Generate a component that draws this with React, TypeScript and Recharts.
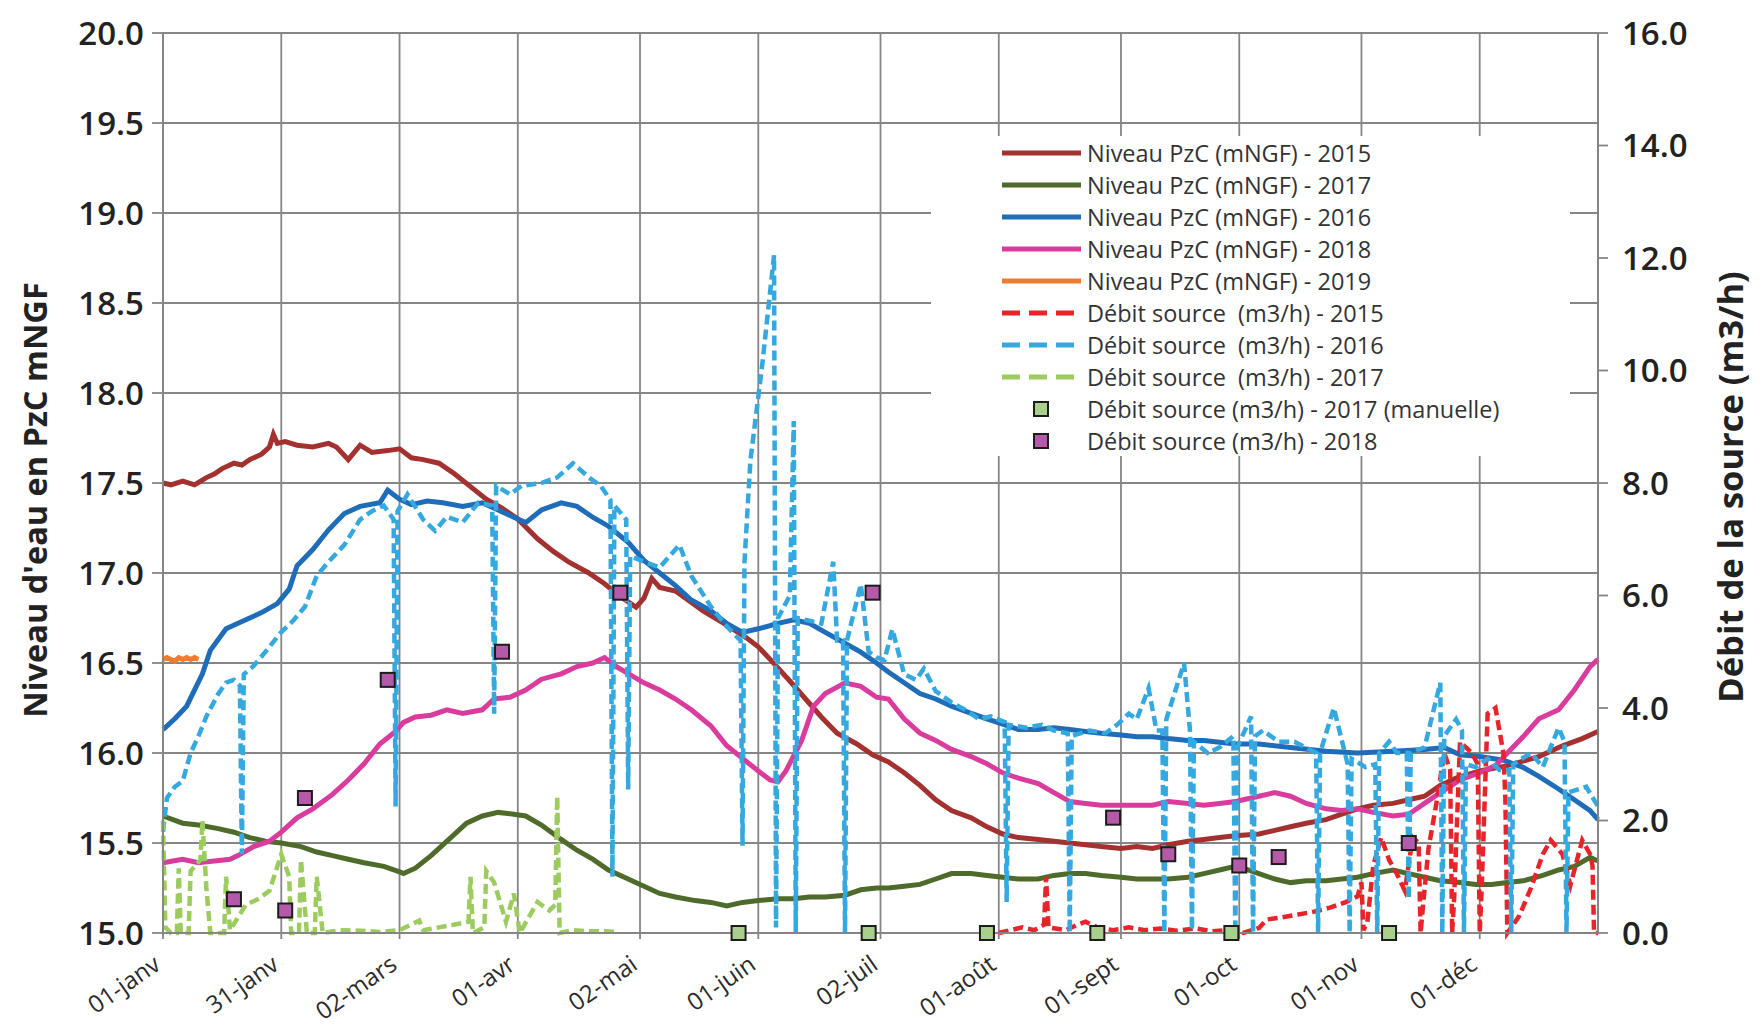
import React from "react";
import { ComposedChart, Line, Scatter, XAxis, YAxis, CartesianGrid } from "recharts";

// day index 0 = 01-janv
const dayTicks = [0, 30, 60, 90, 121, 151, 182, 212, 243, 273, 304, 334];
const dayLabels = ["01-janv", "31-janv", "02-mars", "01-avr", "02-mai", "01-juin", "02-juil", "01-août", "01-sept", "01-oct", "01-nov", "01-déc"];
const levelTicks = [15, 15.5, 16, 16.5, 17, 17.5, 18, 18.5, 19, 19.5, 20];
const flowTicks = [0, 2, 4, 6, 8, 10, 12, 14, 16];

type Pt = [number, number];

const niv2015: Pt[] = [
  [0, 17.5], [2, 17.49], [5, 17.51], [8, 17.49], [11, 17.53], [13, 17.55], [15, 17.58], [18, 17.61], [20, 17.6],
  [22, 17.63], [25, 17.66], [27, 17.7], [28, 17.77], [29, 17.72], [31, 17.73], [34, 17.71], [38, 17.7], [42, 17.72],
  [44, 17.7], [47, 17.63], [50, 17.71], [53, 17.67], [57, 17.68], [60, 17.69], [63, 17.64], [66, 17.63], [70, 17.61],
  [74, 17.55], [78, 17.48], [82, 17.41], [86, 17.36], [90, 17.3], [95, 17.19], [99, 17.12], [103, 17.06], [108, 17.0],
  [112, 16.94], [116, 16.87], [120, 16.81], [122, 16.86], [124, 16.97], [126, 16.92], [130, 16.9], [137, 16.79],
  [143, 16.71], [148, 16.64], [151, 16.59], [154, 16.52], [159, 16.4], [163, 16.3], [167, 16.2], [171, 16.11],
  [176, 16.05], [180, 15.99], [184, 15.95], [188, 15.89], [192, 15.82], [196, 15.74], [200, 15.68], [205, 15.64],
  [209, 15.59], [213, 15.55], [217, 15.53], [222, 15.52], [226, 15.51], [230, 15.5], [234, 15.49], [238, 15.48],
  [243, 15.47], [247, 15.48], [251, 15.47], [255, 15.49], [260, 15.51], [264, 15.52], [268, 15.53], [272, 15.54],
  [278, 15.55], [282, 15.57], [286, 15.59], [290, 15.61], [295, 15.63], [299, 15.66], [303, 15.69], [307, 15.71],
  [312, 15.72], [316, 15.74], [320, 15.76], [324, 15.82], [328, 15.86], [334, 15.9], [341, 15.93], [349, 15.98],
  [355, 16.04], [360, 16.08], [364, 16.12],
];

const niv2017: Pt[] = [
  [0, 15.65], [5, 15.61], [9, 15.6], [14, 15.58], [18, 15.56], [22, 15.53], [26, 15.51], [30, 15.5], [35, 15.48],
  [39, 15.45], [43, 15.43], [47, 15.41], [51, 15.39], [56, 15.37], [60, 15.34], [61, 15.33], [64, 15.36], [68, 15.43],
  [73, 15.53], [77, 15.61], [81, 15.65], [85, 15.67], [89, 15.66], [92, 15.65], [96, 15.6], [101, 15.52], [105, 15.46],
  [109, 15.41], [113, 15.35], [118, 15.3], [122, 15.26], [126, 15.22], [130, 15.2], [135, 15.18], [139, 15.17],
  [143, 15.15], [147, 15.17], [151, 15.18], [156, 15.19], [160, 15.19], [164, 15.2], [168, 15.2], [173, 15.21],
  [177, 15.24], [181, 15.25], [184, 15.25], [188, 15.26], [192, 15.27], [196, 15.3], [200, 15.33], [205, 15.33],
  [209, 15.32], [213, 15.31], [217, 15.3], [222, 15.3], [226, 15.32], [230, 15.33], [234, 15.33], [238, 15.32],
  [243, 15.31], [247, 15.3], [251, 15.3], [255, 15.3], [260, 15.31], [264, 15.33], [268, 15.35], [272, 15.37],
  [274, 15.36], [278, 15.33], [282, 15.3], [286, 15.28], [290, 15.29], [295, 15.29], [299, 15.3], [303, 15.31],
  [307, 15.33], [312, 15.35], [316, 15.33], [320, 15.31], [324, 15.29], [329, 15.28], [333, 15.27], [337, 15.27],
  [341, 15.28], [345, 15.29], [350, 15.32], [354, 15.35], [358, 15.37], [362, 15.42], [364, 15.4],
];

const niv2016: Pt[] = [
  [0, 16.13], [3, 16.19], [6, 16.26], [10, 16.44], [12, 16.57], [16, 16.69], [21, 16.74], [25, 16.78], [29, 16.83],
  [32, 16.91], [34, 17.04], [38, 17.13], [42, 17.24], [46, 17.33], [50, 17.37], [55, 17.39], [57, 17.46], [60, 17.41],
  [63, 17.38], [67, 17.4], [71, 17.39], [76, 17.37], [81, 17.39], [85, 17.35], [89, 17.31], [92, 17.28], [96, 17.35],
  [101, 17.39], [105, 17.37], [109, 17.31], [113, 17.26], [118, 17.17], [122, 17.07], [126, 17.0], [130, 16.93],
  [134, 16.85], [139, 16.79], [143, 16.72], [147, 16.67], [151, 16.69], [156, 16.72], [160, 16.74], [164, 16.72],
  [168, 16.67], [173, 16.61], [177, 16.56], [181, 16.5], [184, 16.45], [188, 16.39], [192, 16.33], [196, 16.3],
  [200, 16.26], [205, 16.22], [209, 16.19], [213, 16.16], [217, 16.13], [222, 16.13], [226, 16.14], [230, 16.13],
  [234, 16.12], [238, 16.11], [243, 16.1], [247, 16.09], [251, 16.09], [255, 16.08], [260, 16.07], [264, 16.07],
  [268, 16.06], [272, 16.05], [278, 16.05], [286, 16.03], [295, 16.01], [303, 16.0], [312, 16.01], [320, 16.02],
  [325, 16.03], [329, 15.99], [334, 15.98], [340, 15.96], [345, 15.92], [349, 15.87], [354, 15.8], [358, 15.74],
  [362, 15.68], [364, 15.63],
];

const niv2018: Pt[] = [
  [0, 15.39], [5, 15.41], [9, 15.39], [13, 15.4], [17, 15.41], [19, 15.43], [23, 15.48], [27, 15.51], [30, 15.56],
  [34, 15.64], [38, 15.69], [43, 15.77], [47, 15.85], [51, 15.94], [55, 16.05], [59, 16.12], [61, 16.17], [64, 16.2],
  [68, 16.21], [72, 16.24], [76, 16.22], [81, 16.24], [84, 16.3], [88, 16.31], [92, 16.35], [96, 16.41], [101, 16.44],
  [105, 16.48], [109, 16.5], [112, 16.53], [115, 16.48], [122, 16.39], [126, 16.35], [130, 16.3], [134, 16.24],
  [139, 16.15], [143, 16.04], [147, 15.97], [151, 15.9], [154, 15.85], [156, 15.84], [158, 15.9], [162, 16.07],
  [165, 16.26], [168, 16.33], [173, 16.39], [177, 16.37], [181, 16.31], [184, 16.3], [188, 16.19], [192, 16.11],
  [196, 16.07], [200, 16.02], [205, 15.98], [209, 15.94], [213, 15.89], [217, 15.86], [222, 15.83], [226, 15.78],
  [230, 15.73], [234, 15.72], [238, 15.71], [243, 15.71], [247, 15.71], [251, 15.71], [255, 15.73], [260, 15.72],
  [264, 15.71], [268, 15.72], [272, 15.73], [274, 15.74], [278, 15.76], [282, 15.78], [286, 15.76], [290, 15.72],
  [295, 15.69], [299, 15.68], [303, 15.69], [307, 15.67], [312, 15.65], [316, 15.66], [320, 15.72], [324, 15.78],
  [329, 15.85], [334, 15.89], [338, 15.93], [341, 16.0], [345, 16.09], [349, 16.19], [354, 16.24], [358, 16.35],
  [362, 16.48], [364, 16.52],
];

const niv2019: Pt[] = [
  [0, 16.52], [1, 16.53], [2, 16.52], [3, 16.51], [4, 16.53], [5, 16.52], [6, 16.53], [7, 16.52], [8, 16.53], [9, 16.52],
];

const deb2015: Pt[] = [
  [212, 0.0], [215, 0.05], [218, 0.1], [221, 0.05], [223.5, 0.15], [224, 1.0], [224.6, 0.1], [229, 0.05], [232, 0.15],
  [234, 0.2], [237, 0.1], [241, 0.05], [245, 0.1], [249, 0.05], [253, 0.08], [257, 0.04], [262, 0.08], [266, 0.03],
  [270, 0.05], [274, 0.0], [278, 0.09], [280, 0.24], [284, 0.28], [288, 0.33], [292, 0.38], [296, 0.45], [300, 0.55],
  [303, 0.65], [304, 0.9], [304.5, 0.05], [305.5, 0.2], [307, 1.2], [309, 1.7], [311, 1.3], [313, 1.05], [315, 0.75],
  [317, 1.7], [318.5, 1.6], [319, 0.0], [319.5, 0.4], [321, 1.5], [323, 2.3], [325, 3.2], [326.5, 2.9], [327, 0.0],
  [327.5, 0.6], [329, 3.4], [332, 3.2], [333.5, 3.0], [334, 0.0], [334.5, 0.8], [336, 3.9], [338, 4.0], [340, 3.2],
  [340.5, 2.4], [341, 0.0], [344, 0.3], [347, 0.8], [350, 1.4], [352, 1.65], [355, 1.4], [357, 0.85], [360, 1.65],
  [362, 1.4], [362.6, 1.2], [363, 0.0], [364, 0.0],
];

const deb2016: Pt[] = [
  [0, 1.8], [1, 2.4], [3, 2.6], [5, 2.7], [7, 3.2], [9, 3.5], [11, 3.85], [14, 4.25], [16, 4.45], [18, 4.5],
  [19.5, 4.4], [20, 1.4], [20.5, 4.6], [23, 4.75], [26, 5.0], [30, 5.35], [33, 5.55], [36, 5.8], [39, 6.35], [42, 6.6],
  [46, 6.9], [50, 7.35], [53, 7.5], [56, 7.6], [58.5, 7.35], [59, 2.25], [59.5, 7.5], [62, 7.8], [66, 7.35],
  [69, 7.15], [72, 7.4], [76, 7.3], [80, 7.65], [83.5, 7.6], [84, 3.9], [84.5, 7.95], [88, 7.8], [91, 7.95], [96, 8.0],
  [100, 8.1], [104, 8.35], [108, 8.1], [111, 7.95], [113.5, 7.7], [114, 1.0], [114.5, 7.6], [117.5, 7.35], [118, 2.55],
  [118.5, 6.7], [122, 6.6], [126, 6.5], [131, 6.9], [134, 6.35], [139, 5.8], [143, 5.45], [146.5, 5.2], [147, 1.55],
  [147.5, 6.6], [149, 8.4], [152, 10.1], [155, 12.05], [155.5, 0.1], [156, 5.6], [159, 6.0], [160, 9.1], [160.5, 0.0],
  [161, 5.6], [164, 5.55], [167, 5.5], [170, 6.6], [171, 5.2], [172.5, 5.2], [173, 0.0], [173.5, 5.2], [177, 6.2],
  [179, 5.0], [181, 4.9], [183, 4.85], [185, 5.4], [188, 4.6], [191, 4.5], [193, 4.7], [196, 4.3], [200, 4.1],
  [204, 3.95], [207, 3.8], [210, 3.85], [213.5, 3.75], [214, 0.55], [214.5, 3.7], [219, 3.65], [223, 3.7], [226, 3.6],
  [229.5, 3.55], [230, 0.0], [230.5, 3.5], [235, 3.6], [239, 3.55], [242, 3.7], [245, 3.9], [247, 3.8], [250, 4.35],
  [252, 3.6], [253.5, 3.6], [254, 0.0], [254.5, 3.8], [259, 4.8], [260.5, 3.6], [261, 0.05], [261.5, 3.4], [265, 3.2],
  [268, 3.3], [271.5, 3.5], [272, 0.0], [272.5, 3.3], [276, 3.85], [276.5, 0.0], [277, 3.5], [279, 3.6], [283, 3.4],
  [287, 3.4], [292.5, 3.2], [293, 0.0], [293.5, 3.2], [297, 4.0], [300.5, 3.0], [301, 0.0], [301.5, 3.1], [305, 2.95],
  [307.5, 3.0], [308, 0.0], [308.5, 3.2], [311, 3.4], [313, 3.2], [315.5, 3.2], [316, 0.6], [316.5, 3.2], [320, 3.3],
  [324, 4.45], [324.5, 0.0], [325, 3.5], [328, 3.8], [329.5, 3.6], [330, 0.0], [330.5, 3.0], [333, 2.95], [336, 3.1],
  [339, 2.9], [341.5, 2.9], [342, 0.0], [342.5, 3.0], [347, 3.2], [350, 2.95], [354, 3.65], [355.5, 3.4], [356, 0.0],
  [356.5, 2.5], [361, 2.6], [364, 2.25],
];

const deb2017: Pt[] = [
  [0, 2.0], [0.6, 0.1], [2, 0.0], [3.5, 0.0], [4, 1.15], [4.5, 0.0], [6.5, 0.0], [7, 1.1], [9.5, 1.3], [10, 2.0],
  [11, 0.8], [12, 0.0], [15.5, 0.0], [16, 1.0], [17, 0.05], [21, 0.5], [24, 0.6], [27, 0.75], [30, 1.4], [32, 1.0],
  [32.5, 0.0], [34.5, 0.0], [35, 1.3], [36.5, 0.0], [38.5, 0.0], [39, 1.0], [40.5, 0.0], [45, 0.05], [50, 0.04],
  [55, 0.02], [60, 0.05], [65, 0.22], [66, 0.05], [70, 0.1], [74, 0.15], [77.5, 0.2], [78, 1.0], [78.6, 0.0],
  [81.5, 0.1], [82, 1.1], [84, 0.9], [87, 0.2], [89, 0.7], [90.5, 0.0], [95, 0.55], [98, 0.4], [99.5, 0.5],
  [100, 2.43], [100.6, 0.0], [104, 0.05], [108, 0.03], [112, 0.03], [115, 0.02],
];

const deb2017Manuel: Pt[] = [[146, 0], [179, 0], [209, 0], [237, 0], [271, 0], [311, 0]];
const deb2018: Pt[] = [
  [18, 0.6], [31, 0.4], [36, 2.4], [57, 4.5], [86, 5.0], [116, 6.05], [180, 6.05], [241, 2.05], [255, 1.4],
  [273, 1.2], [283, 1.35], [316, 1.6],
];

const toRows = (pts: Pt[]) => pts.map(([day, v]) => ({ day, v }));

const FONT = "'Open Sans', 'DejaVu Sans', sans-serif";
const GRID = "#858585";

const C = {
  n2015: "#A3312F",
  n2017: "#4F6B2B",
  n2016: "#1F6DB8",
  n2018: "#DA3C9E",
  n2019: "#EE7D30",
  d2015: "#E8232A",
  d2016: "#34A8DF",
  d2017: "#9CCB5E",
  sqGreen: "#A8CF8C",
  sqPurple: "#B45AA8",
};

const legendItems = [
  { label: "Niveau PzC (mNGF) - 2015", color: C.n2015, kind: "line" },
  { label: "Niveau PzC (mNGF) - 2017", color: C.n2017, kind: "line" },
  { label: "Niveau PzC (mNGF) - 2016", color: C.n2016, kind: "line" },
  { label: "Niveau PzC (mNGF) - 2018", color: C.n2018, kind: "line" },
  { label: "Niveau PzC (mNGF) - 2019", color: C.n2019, kind: "line" },
  { label: "Débit source  (m3/h) - 2015", color: C.d2015, kind: "dash" },
  { label: "Débit source  (m3/h) - 2016", color: C.d2016, kind: "dash" },
  { label: "Débit source  (m3/h) - 2017", color: C.d2017, kind: "dash" },
  { label: "Débit source (m3/h) - 2017 (manuelle)", color: C.sqGreen, kind: "square" },
  { label: "Débit source (m3/h) - 2018", color: C.sqPurple, kind: "square" },
];

const XTick = (props: any) => {
  const { x, y, payload } = props;
  const i = dayTicks.indexOf(payload.value);
  const tx = x - 1;
  const ty = y + 27;
  return (
    <text x={tx} y={ty} transform={`rotate(-35, ${tx}, ${ty})`} textAnchor="end"
      fontFamily={FONT} fontSize={24} fill="#2a2a2a">
      {dayLabels[i]}
    </text>
  );
};

const squareShape = (fill: string) => (props: any) => {
  const { cx, cy } = props;
  return <rect x={cx - 7} y={cy - 7} width={14} height={14} fill={fill} stroke="#1c1c1c" strokeWidth={2} />;
};

function ChartLegend() {
  return (
    <div
      style={{
        position: "absolute", left: 931, top: 136, width: 639, height: 320, background: "#fff",
        paddingTop: 1, boxSizing: "border-box",
      }}
    >
      {legendItems.map((it) => (
        <div key={it.label} style={{ display: "flex", alignItems: "center", height: 32 }}>
          <svg width={156} height={32} style={{ flex: "none" }}>
            {it.kind === "line" && <line x1={71} x2={150} y1={16} y2={16} stroke={it.color} strokeWidth={5} />}
            {it.kind === "dash" && (
              <line x1={71} x2={150} y1={16} y2={16} stroke={it.color} strokeWidth={5} strokeDasharray="18 9" />
            )}
            {it.kind === "square" && (
              <rect x={103} y={9} width={14} height={14} fill={it.color} stroke="#1c1c1c" strokeWidth={2} />
            )}
          </svg>
          <span style={{ fontFamily: FONT, fontSize: 23.5, color: "#333", whiteSpace: "pre" }}>
            {it.label}
          </span>
        </div>
      ))}
    </div>
  );
}

export default function App() {
  const lvl = { yAxisId: "niv", dataKey: "v", dot: false, isAnimationActive: false, strokeWidth: 5, type: "linear" as const };
  const deb = { yAxisId: "deb", dataKey: "v", dot: false, isAnimationActive: false, strokeWidth: 4.5, type: "linear" as const, strokeDasharray: "10 5" };
  const tickStyle = { fontFamily: FONT, fontSize: 33, fontWeight: 600, fill: "#222" };
  return (
    <div style={{ position: "absolute", left: 0, top: 0, width: 1764, height: 1036, background: "#fff" }}>
      <ComposedChart width={1764} height={1036} margin={{ top: 33, right: 0, bottom: 0, left: 0 }}>
        <CartesianGrid yAxisId="niv" stroke={GRID} strokeWidth={1.8} />
        <XAxis
          dataKey="day"
          type="number"
          domain={[0, 364]}
          ticks={dayTicks}
          interval={0}
          height={103}
          axisLine={{ stroke: GRID, strokeWidth: 1.8 }}
          tickLine={{ stroke: GRID, strokeWidth: 1.8 }}
          tickSize={6}
          tick={<XTick />}
        />
        <YAxis
          yAxisId="niv"
          orientation="left"
          domain={[15, 20]}
          ticks={levelTicks}
          interval={0}
          width={163}
          axisLine={{ stroke: GRID, strokeWidth: 1.8 }}
          tickLine={{ stroke: GRID, strokeWidth: 1.8 }}
          tickSize={11}
          tickMargin={8}
          tickFormatter={(v: number) => v.toFixed(1)}
          tick={tickStyle}
        />
        <YAxis
          yAxisId="deb"
          orientation="right"
          domain={[0, 16]}
          ticks={flowTicks}
          interval={0}
          width={166}
          axisLine={{ stroke: GRID, strokeWidth: 1.8 }}
          tickLine={{ stroke: GRID, strokeWidth: 1.8 }}
          tickSize={10}
          tickMargin={14}
          tickFormatter={(v: number) => v.toFixed(1)}
          tick={tickStyle}
        />
        <Line {...lvl} data={toRows(niv2015)} stroke={C.n2015} name="Niveau PzC (mNGF) - 2015" />
        <Line {...lvl} data={toRows(niv2017)} stroke={C.n2017} name="Niveau PzC (mNGF) - 2017" />
        <Line {...lvl} data={toRows(niv2016)} stroke={C.n2016} name="Niveau PzC (mNGF) - 2016" />
        <Line {...lvl} data={toRows(niv2018)} stroke={C.n2018} name="Niveau PzC (mNGF) - 2018" />
        <Line {...lvl} data={toRows(niv2019)} stroke={C.n2019} name="Niveau PzC (mNGF) - 2019" />
        <Line {...deb} data={toRows(deb2015)} stroke={C.d2015} name="Débit source (m3/h) - 2015" />
        <Line {...deb} data={toRows(deb2016)} stroke={C.d2016} name="Débit source (m3/h) - 2016" />
        <Line {...deb} data={toRows(deb2017)} stroke={C.d2017} name="Débit source (m3/h) - 2017" />
        <Scatter yAxisId="deb" dataKey="v" data={toRows(deb2017Manuel)} shape={squareShape(C.sqGreen)} isAnimationActive={false} />
        <Scatter yAxisId="deb" dataKey="v" data={toRows(deb2018)} shape={squareShape(C.sqPurple)} isAnimationActive={false} />
      </ComposedChart>
      <svg width={1764} height={1036} style={{ position: "absolute", left: 0, top: 0, pointerEvents: "none" }}>
        <text x={34} y={500} transform="rotate(-90, 34, 500)" textAnchor="middle" dominantBaseline="central"
          fontFamily={FONT} fontSize={32.5} fontWeight={700} fill="#222">
          Niveau d'eau en PzC mNGF
        </text>
        <text x={1729} y={487} transform="rotate(-90, 1729, 487)" textAnchor="middle" dominantBaseline="central"
          fontFamily={FONT} fontSize={34.5} fontWeight={700} fill="#222">
          Débit de la source (m3/h)
        </text>
      </svg>
      <ChartLegend />
    </div>
  );
}
